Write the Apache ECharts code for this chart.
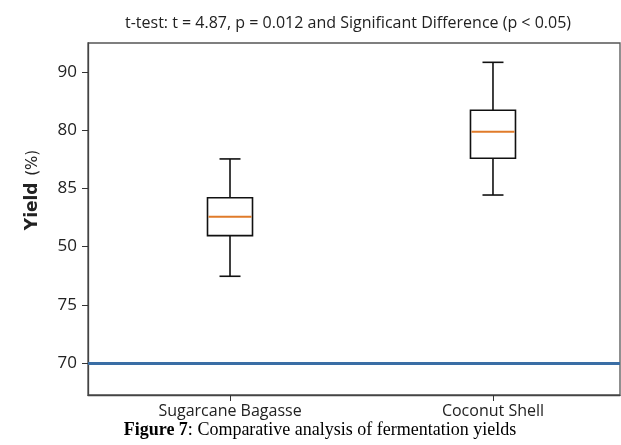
<!DOCTYPE html>
<html>
<head>
<meta charset="utf-8">
<script src="https://cdn.jsdelivr.net/npm/echarts@6/dist/echarts.min.js"></script>
<style>html,body{margin:0;padding:0;background:#fff;}#c{width:621px;height:445px;}</style>
</head>
<body>
<div id="c"></div>
<script>
// ---- data ----
var categories = ["Sugarcane Bagasse", "Coconut Shell"];
var categoryPos = [1, 2];
// [min, Q1, median, Q3, max] on the plot's underlying scale
var sugarcaneBox = [77.45, 80.94, 82.57, 84.20, 87.53];
var coconutBox = [84.43, 87.59, 89.87, 91.71, 95.83];
var yTickValues = [70, 75, 80, 85, 90, 95];
var yTickLabels = ["70", "75", "50", "85", "80", "90"];
var refLineValue = [70];
var titleText = "t-test: t = 4.87, p = 0.012 and Significant Difference (p < 0.05)";
var captionBold = "Figure 7";
var captionRest = ": Comparative analysis of fermentation yields";

var boxes = [sugarcaneBox, coconutBox];
var boxData = boxes.map(function (b, i) { return [categoryPos[i]].concat(b); });
var BOX_W = 45, CAP_W = 21;

var chart = echarts.init(document.getElementById('c'), null, {renderer: 'canvas'});
var tickFont = 'Open Sans';
chart.setOption({
  backgroundColor: '#fff',
  animation: false,
  title: {
    text: titleText, left: 343, top: 10, textAlign: 'center',
    textStyle: {fontFamily: tickFont, fontSize: 16, fontWeight: 'normal', color: '#222'}
  },
  grid: {left: 88, top: 43, width: 532, height: 352, show: true, borderColor: '#555', borderWidth: 1.3, backgroundColor: '#fff'},
  xAxis: {
    type: 'value', min: 0.46, max: 2.483,
    splitLine: {show: false},
    axisLine: {show: true, lineStyle: {color: '#444', width: 1.3}},
    axisTick: {show: true, customValues: categoryPos, length: 6, lineStyle: {color: '#333'}},
    axisLabel: {show: true, customValues: categoryPos, margin: 8,
      formatter: function (v) { var i = categoryPos.indexOf(v); return i >= 0 ? categories[i] : ''; },
      fontFamily: tickFont, fontSize: 16, color: '#222'}
  },
  yAxis: {
    type: 'value', min: 67.25, max: 97.49,
    splitLine: {show: false},
    axisLine: {show: true, lineStyle: {color: '#444', width: 1.3}},
    axisTick: {show: true, customValues: yTickValues, length: 6, lineStyle: {color: '#333'}},
    axisLabel: {show: true, customValues: yTickValues, margin: 11,
      formatter: function (v) { var i = yTickValues.indexOf(v); return i >= 0 ? yTickLabels[i] : ''; },
      fontFamily: tickFont, fontSize: 17, color: '#222'}
  },
  series: [
    {
      type: 'custom', data: boxData, z: 3,
      encode: {x: 0, y: [1, 2, 3, 4, 5]},
      renderItem: function (params, api) {
        var x = api.value(0);
        var pMin = api.coord([x, api.value(1)]);
        var pQ1 = api.coord([x, api.value(2)]);
        var pMed = api.coord([x, api.value(3)]);
        var pQ3 = api.coord([x, api.value(4)]);
        var pMax = api.coord([x, api.value(5)]);
        var cx = pMed[0], hw = BOX_W / 2, cw = CAP_W / 2;
        var blk = {stroke: '#111', lineWidth: 1.6};
        return {
          type: 'group',
          children: [
            {type: 'line', shape: {x1: cx, y1: pQ3[1], x2: cx, y2: pMax[1]}, style: blk},
            {type: 'line', shape: {x1: cx, y1: pQ1[1], x2: cx, y2: pMin[1]}, style: blk},
            {type: 'line', shape: {x1: cx - cw, y1: pMax[1], x2: cx + cw, y2: pMax[1]}, style: blk},
            {type: 'line', shape: {x1: cx - cw, y1: pMin[1], x2: cx + cw, y2: pMin[1]}, style: blk},
            {type: 'rect', shape: {x: cx - hw, y: pQ3[1], width: BOX_W, height: pQ1[1] - pQ3[1]},
              style: {fill: '#fff', stroke: '#111', lineWidth: 1.6}},
            {type: 'line', shape: {x1: cx - hw + 1, y1: pMed[1], x2: cx + hw - 1, y2: pMed[1]},
              style: {stroke: '#e07b2a', lineWidth: 2}}
          ]
        };
      },
      markLine: {
        silent: true, symbol: ['none', 'none'], label: {show: false},
        lineStyle: {color: '#3a6ea5', width: 3, type: 'solid'},
        data: refLineValue.map(function (v) { return {yAxis: v}; })
      }
    }
  ],
  graphic: [
    {
      type: 'text', x: 33, y: 190, rotation: Math.PI / 2,
      style: {
        text: '{b|Yield}  {n|(%)}', align: 'center', verticalAlign: 'middle',
        rich: {
          b: {fontFamily: 'DejaVu Sans', fontWeight: 'bold', fontSize: 17, fill: '#222'},
          n: {fontFamily: 'DejaVu Sans', fontWeight: 'normal', fontSize: 15, fill: '#222'}
        }
      }
    },
    {
      type: 'text', x: 320, y: 430,
      style: {
        text: '{b|' + captionBold + '}{n|' + captionRest + '}', align: 'center', verticalAlign: 'middle',
        rich: {
          b: {fontFamily: 'Liberation Serif', fontWeight: 'bold', fontSize: 18, fill: '#000'},
          n: {fontFamily: 'Liberation Serif', fontWeight: 'normal', fontSize: 18, fill: '#000'}
        }
      }
    }
  ]
});
</script>
</body>
</html>
